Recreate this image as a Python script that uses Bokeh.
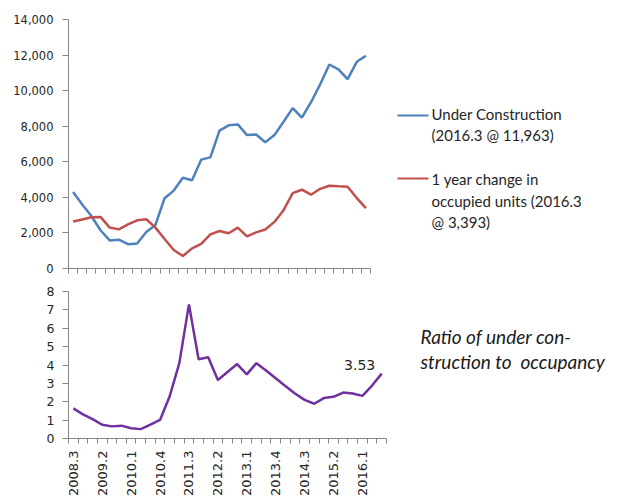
from bokeh.plotting import figure
from bokeh.layouts import column, row
from bokeh.models import (Range1d, FixedTicker, NumeralTickFormatter, Label)
from bokeh.core.properties import value
from bokeh.embed import file_html
from bokeh.resources import INLINE
import math

# Quarterly series, 2008.3 .. 2016.3
quarters = ["2008.3", "2008.4", "2009.1", "2009.2", "2009.3", "2009.4",
            "2010.1", "2010.2", "2010.3", "2010.4", "2011.1", "2011.2",
            "2011.3", "2011.4", "2012.1", "2012.2", "2012.3", "2012.4",
            "2013.1", "2013.2", "2013.3", "2013.4", "2014.1", "2014.2",
            "2014.3", "2014.4", "2015.1", "2015.2", "2015.3", "2015.4",
            "2016.1", "2016.2", "2016.3"]

under_construction = [4300, 3600, 2950, 2150, 1580, 1620, 1370, 1410, 2050,
                      2450, 3950, 4380, 5100, 4960, 6120, 6250, 7750, 8050,
                      8100, 7500, 7530, 7100, 7500, 8250, 9020, 8480, 9350,
                      10350, 11470, 11200, 10650, 11620, 11963]

occupied_change = [2640, 2760, 2880, 2900, 2300, 2200, 2480, 2710, 2770,
                   2300, 1660, 1040, 700, 1130, 1380, 1920, 2110, 1980,
                   2300, 1810, 2030, 2190, 2620, 3280, 4240, 4430, 4150,
                   4480, 4650, 4620, 4600, 3960, 3393]

ratio = [1.64, 1.31, 1.05, 0.75, 0.66, 0.70, 0.56, 0.51, 0.75, 1.01, 2.30,
         4.10, 7.30, 4.31, 4.42, 3.18, 3.62, 4.05, 3.49, 4.10, 3.70, 3.28,
         2.86, 2.45, 2.10, 1.89, 2.20, 2.27, 2.50, 2.45, 2.32, 2.88, 3.53]

x_tick_labels = ["2008.3", "2009.2", "2010.1", "2010.4", "2011.3", "2012.2",
                 "2013.1", "2013.4", "2014.3", "2015.2", "2016.1"]

uc_ticks = [0, 2000, 4000, 6000, 8000, 10000, 12000, 14000]
ratio_ticks = [0, 1, 2, 3, 4, 5, 6, 7, 8]

BLUE = "#4f81bd"
RED = "#c0504d"
PURPLE = "#7030a0"
AXIS = "#868686"
TEXT = "#262626"

xs = list(range(len(quarters)))
boundaries = [i - 0.5 for i in range(len(quarters) + 1)]
label_pos = [quarters.index(q) for q in x_tick_labels]

# panel geometry: (height, top border, bottom border)
TOP_H, TOP_BT, TOP_BB = 280, 19, 12
BOT_H, BOT_BT, BOT_BB = 218, 11, 55


def style_axes(p, font_size):
    p.grid.visible = False
    p.outline_line_color = None
    p.background_fill_color = "white"
    p.border_fill_color = "white"
    for ax in (p.xaxis[0], p.yaxis[0]):
        ax.axis_line_color = AXIS
        ax.major_tick_line_color = AXIS
        ax.minor_tick_line_color = AXIS
        ax.major_label_text_font = "DejaVu Sans"
        ax.major_label_text_font_size = font_size
        ax.major_label_text_color = TEXT
    p.yaxis.major_tick_in = 0
    p.yaxis.major_tick_out = 6
    p.yaxis.minor_tick_line_color = None
    p.yaxis.major_label_standoff = 9


def blank_panel(width, height, b_top, b_bottom):
    # pixel-aligned side panel: data y equals pixels from the panel's top
    p = figure(width=width, height=height, output_backend="svg",
               toolbar_location=None, x_axis_location=None, y_axis_location=None,
               x_range=Range1d(0, width),
               y_range=Range1d(height - b_bottom, b_top),
               min_border_left=0, min_border_right=0,
               min_border_top=b_top, min_border_bottom=b_bottom)
    p.grid.visible = False
    p.outline_line_color = None
    return p


# ---- top panel: construction vs. occupancy change ----
top = figure(width=372, height=TOP_H, output_backend="svg", toolbar_location=None,
             x_range=Range1d(-0.5, len(quarters) - 0.5),
             y_range=Range1d(0, 14000),
             min_border_left=68, min_border_right=2,
             min_border_top=TOP_BT, min_border_bottom=TOP_BB)
top.line(xs, under_construction, line_color=BLUE, line_width=2.5)
top.line(xs, occupied_change, line_color=RED, line_width=2.5)
style_axes(top, "11.5px")
top.yaxis.ticker = FixedTicker(ticks=uc_ticks)
top.yaxis.formatter = NumeralTickFormatter(format="0,0")
top.xaxis.ticker = FixedTicker(ticks=[], minor_ticks=boundaries)
top.xaxis.minor_tick_in = 0
top.xaxis.minor_tick_out = 5
top.xaxis.major_label_text_font_size = "0px"
top.xaxis.major_tick_line_color = None

# ---- legend panel ----
leg = blank_panel(249, TOP_H, TOP_BT, TOP_BB)
leg.line([25, 56], [115, 115], line_color=BLUE, line_width=2)
leg.line([25, 56], [178, 178], line_color=RED, line_width=2)
leg.text(x=[59, 59], y=[113, 134],
         text=["Under Construction", f"(2016.3 @ {under_construction[-1]:,})"],
         text_font=value("Lato"), text_font_size="15px", text_color=TEXT,
         text_baseline="middle")
leg.text(x=[59, 59, 59], y=[178, 200, 221],
         text=["1 year change in", "occupied units (2016.3",
               f"@ {occupied_change[-1]:,})"],
         text_font=value("Lato"), text_font_size="15px", text_color=TEXT,
         text_baseline="middle")

# ---- bottom panel: ratio ----
bot = figure(width=390, height=BOT_H, output_backend="svg", toolbar_location=None,
             x_range=Range1d(-0.5, len(quarters) - 0.5),
             y_range=Range1d(0, 8),
             min_border_left=68, min_border_right=4,
             min_border_top=BOT_BT, min_border_bottom=BOT_BB)
bot.line(xs, ratio, line_color=PURPLE, line_width=2.5)
style_axes(bot, "12.5px")
bot.yaxis.ticker = FixedTicker(ticks=ratio_ticks)
bot.yaxis.major_label_standoff = 8
bot.xaxis.ticker = FixedTicker(ticks=label_pos, minor_ticks=boundaries)
bot.xaxis.major_label_overrides = {pos: lab for pos, lab in zip(label_pos, x_tick_labels)}
bot.xaxis.major_label_orientation = math.pi / 2
bot.xaxis.major_label_text_font_size = "13px"
bot.xaxis.major_tick_line_color = None
bot.xaxis.minor_tick_in = 0
bot.xaxis.minor_tick_out = 5
bot.xaxis.major_label_standoff = 6
bot.add_layout(Label(x=xs[-1], y=ratio[-1], text=f"{ratio[-1]:.2f}",
                     x_offset=-22, y_offset=9, text_align="center",
                     text_baseline="middle", text_font="DejaVu Sans",
                     text_font_size="14px", text_color=TEXT))

# ---- ratio caption ----
cap = blank_panel(231, BOT_H, BOT_BT, BOT_BB)
cap.text(x=[30, 30], y=[58, 83],
         text=["Ratio of under con-", "struction to\u00a0 occupancy"],
         text_font=value("Lato"), text_font_size="19px", text_font_style="italic",
         text_color="#1a1a1a", text_baseline="middle")

layout = column(row(top, leg), row(bot, cap))
open("out.html", "w").write(file_html(layout, INLINE))
